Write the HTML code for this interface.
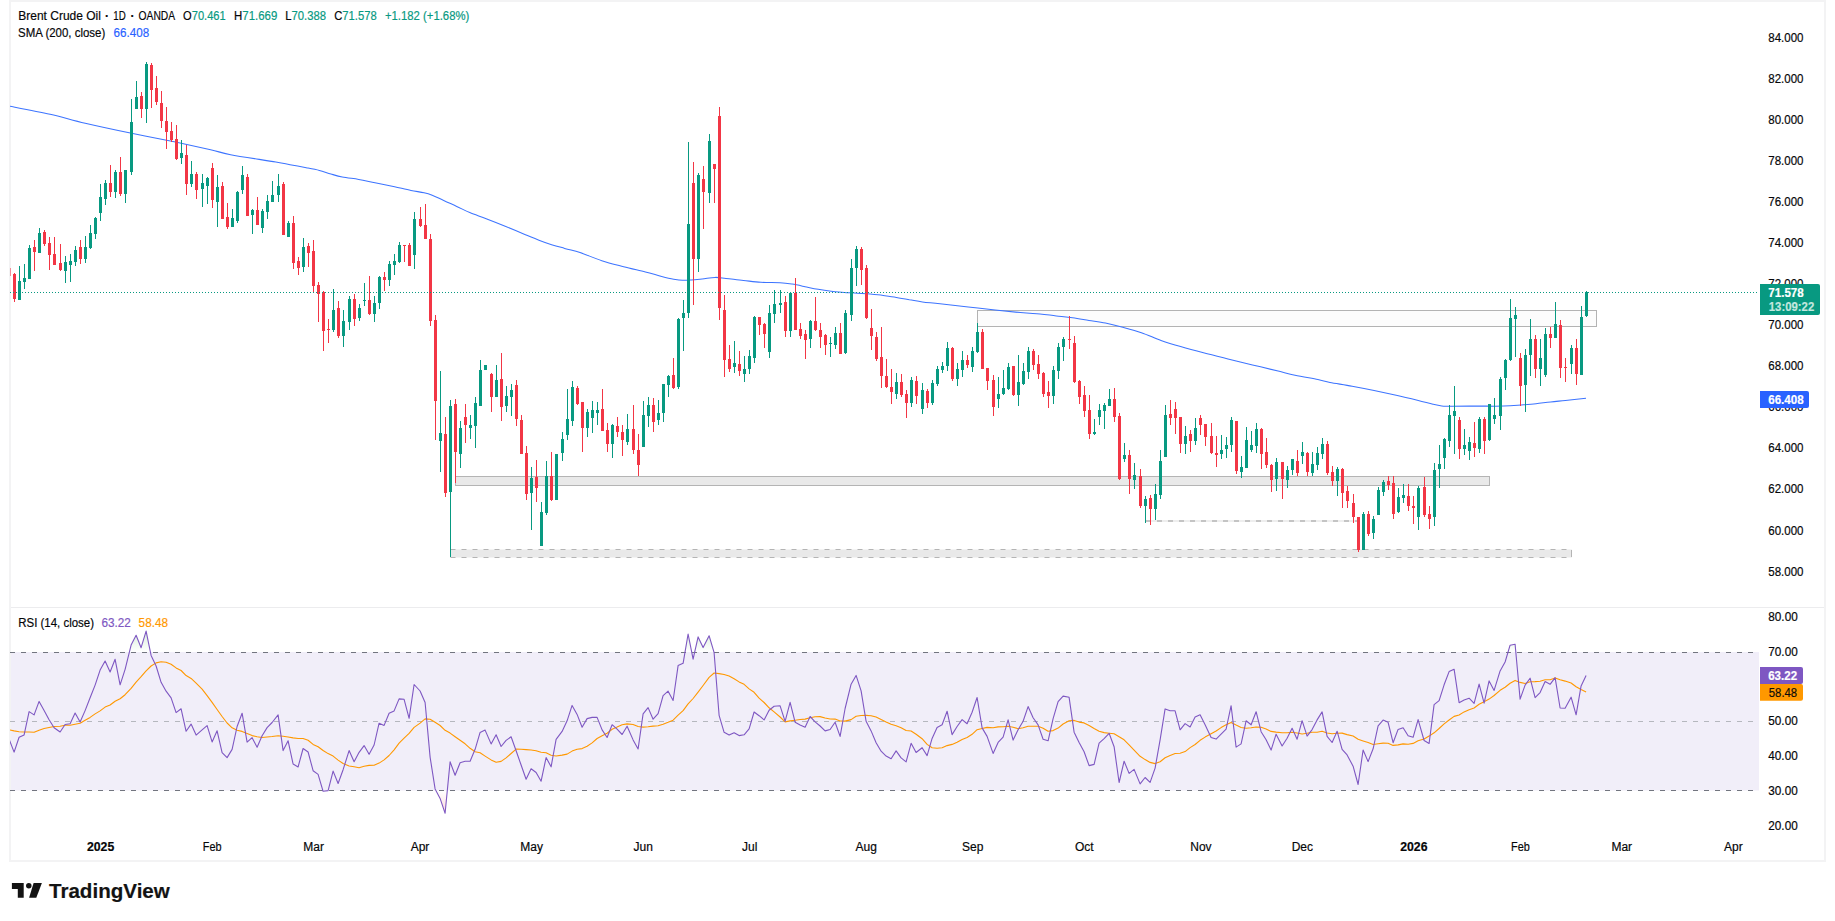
<!DOCTYPE html>
<html lang="en"><head><meta charset="utf-8"><title>Brent Crude Oil chart</title>
<style>html,body{margin:0;padding:0;background:#fff;overflow:hidden}svg{display:block}text{font-family:"Liberation Sans",Arial,sans-serif;font-size:12px;fill:#050608;stroke:#050608;stroke-width:0.18px}.b{font-weight:bold}</style></head><body>
<svg width="1835" height="921" viewBox="0 0 1835 921">
<rect width="1835" height="921" fill="#fff"/>
<rect x="10" y="1" width="1815" height="860" fill="#fff" stroke="#f3f3f4" stroke-width="2"/>
<rect x="11" y="607" width="1813" height="1" fill="#ececee"/>
<defs><clipPath id="pc"><rect x="10" y="2" width="1749" height="604"/></clipPath><clipPath id="rc"><rect x="10" y="608" width="1749" height="228"/></clipPath></defs>
<g clip-path="url(#pc)">
<rect x="977.5" y="310.5" width="619" height="16" fill="#fcfcfc" stroke="#b3b3b3" stroke-width="1"/>
<rect x="455.5" y="476.5" width="1034" height="9" fill="#e9e9e9" stroke="#b4b4b4" stroke-width="1"/>
<rect x="450.5" y="549.5" width="1121.5" height="8" fill="#e9e9e9"/>
<path d="M450.5 549.5H1572M450.5 557.5H1572" stroke="#b4b4b4" stroke-width="1" stroke-dasharray="5 6" fill="none"/>
<path d="M1571.5 550V557" stroke="#b4b4b4" stroke-width="1"/>
<path d="M1146 521H1357" stroke="#eeeeee" stroke-width="2"/>
<path d="M1146 521H1357" stroke="#c4c4c4" stroke-width="2" stroke-dasharray="5 6"/>
<path d="M10.0 106.3C16.7 107.6 37.6 111.5 50.1 114.3C62.6 117.1 71.8 120.2 85.2 123.3C98.6 126.4 115.4 130.0 130.4 133.1C145.5 136.2 162.1 139.3 175.5 142.1C188.9 144.9 201.4 147.6 210.6 149.7C219.8 151.8 219.7 152.6 230.6 154.7C241.5 156.8 265.9 160.3 275.8 162.0C285.7 163.7 284.9 163.8 290.0 164.7C295.1 165.6 301.4 166.8 306.3 167.7C311.2 168.6 315.3 169.3 319.4 170.4C323.5 171.5 327.1 172.9 330.9 174.0C334.7 175.1 337.7 176.1 342.3 177.0C346.9 177.9 353.2 178.5 358.7 179.4C364.1 180.3 369.0 181.5 375.0 182.7C381.0 183.9 388.6 185.5 394.6 186.8C400.6 188.1 406.1 189.4 411.0 190.4C415.9 191.4 420.6 192.0 424.1 192.8C427.6 193.6 428.9 194.0 432.2 195.3C435.5 196.6 439.6 198.6 443.7 200.4C447.8 202.2 452.3 204.4 456.7 206.4C461.1 208.4 464.9 210.6 469.8 212.6C474.7 214.6 480.2 216.4 486.2 218.7C492.2 221.0 499.3 223.8 505.8 226.5C512.3 229.2 518.9 232.0 525.4 234.7C531.9 237.3 538.5 240.1 545.0 242.4C551.5 244.7 558.8 246.7 564.6 248.4C570.4 250.1 573.8 250.4 580.0 252.5C586.2 254.6 594.5 258.3 601.8 260.7C609.1 263.1 616.3 264.8 623.6 266.7C630.9 268.6 639.0 270.3 645.4 271.9C651.8 273.5 657.0 275.3 661.7 276.5C666.4 277.7 670.2 278.6 673.7 279.2C677.2 279.8 679.6 280.2 682.5 280.3C685.4 280.4 687.9 280.2 691.2 280.0C694.5 279.8 698.1 279.4 702.1 279.0C706.1 278.6 711.1 277.5 715.1 277.4C719.1 277.3 721.3 277.9 726.0 278.4C730.7 278.9 737.7 279.9 743.5 280.5C749.3 281.1 754.8 281.9 760.9 282.3C767.0 282.7 774.8 282.5 780.0 282.8C785.2 283.1 787.9 283.5 792.1 284.1C796.3 284.8 800.8 285.8 805.1 286.7C809.5 287.6 813.9 288.6 818.2 289.3C822.6 290.1 826.9 290.7 831.2 291.2C835.5 291.7 839.9 292.2 844.2 292.5C848.6 292.8 852.9 292.9 857.3 293.2C861.6 293.5 866.0 293.7 870.3 294.1C874.6 294.5 878.9 294.9 883.3 295.5C887.6 296.1 892.0 296.7 896.4 297.4C900.8 298.1 905.1 298.9 909.4 299.7C913.7 300.4 917.3 301.2 922.4 301.9C927.5 302.6 930.8 302.7 940.0 303.7C949.2 304.7 964.4 306.6 977.8 308.1C991.2 309.6 1010.0 311.6 1020.4 312.6C1030.8 313.6 1034.0 313.3 1040.0 313.9C1046.0 314.4 1050.8 315.3 1056.3 315.9C1061.8 316.5 1067.2 316.9 1072.7 317.7C1078.2 318.4 1083.5 319.5 1089.0 320.4C1094.5 321.3 1100.0 322.0 1105.4 323.1C1110.9 324.2 1115.7 325.4 1121.7 327.0C1127.7 328.6 1134.9 330.4 1141.4 332.7C1148.0 334.9 1154.5 338.2 1161.0 340.5C1167.5 342.8 1173.5 344.6 1180.6 346.6C1187.7 348.7 1195.6 350.8 1203.5 352.8C1211.4 354.9 1219.8 356.9 1228.0 358.9C1236.2 360.9 1244.3 362.9 1252.5 364.9C1260.7 366.9 1269.9 369.1 1277.0 370.8C1284.1 372.5 1288.2 373.7 1295.0 375.2C1301.8 376.7 1312.1 378.4 1317.9 379.6C1323.7 380.8 1324.3 381.4 1330.0 382.5C1335.7 383.6 1344.8 384.8 1352.1 386.2C1359.4 387.6 1366.8 389.1 1374.1 390.6C1381.4 392.1 1388.8 393.7 1396.2 395.3C1403.6 396.9 1412.2 399.0 1418.3 400.5C1424.4 402.0 1429.1 403.4 1433.0 404.3C1436.9 405.2 1438.6 405.6 1441.8 405.9C1445.0 406.2 1446.2 406.2 1452.1 406.2C1458.0 406.2 1468.5 406.1 1477.1 406.1C1485.7 406.1 1496.2 406.3 1503.6 406.1C1511.0 405.9 1515.9 405.4 1521.3 405.0C1526.7 404.6 1531.1 404.3 1536.0 403.8C1540.9 403.3 1545.8 402.4 1550.7 401.9C1555.6 401.3 1559.5 401.1 1565.4 400.5C1571.3 399.9 1582.6 398.7 1586.0 398.3" stroke="#3d74ff" stroke-width="1.05" fill="none"/>
<g shape-rendering="crispEdges"><g fill="#089981"><rect x="19" y="266" width="1" height="34"/><rect x="18" y="281" width="3" height="19"/><rect x="24" y="264" width="1" height="25"/><rect x="23" y="278" width="3" height="4"/><rect x="29" y="245" width="1" height="34"/><rect x="28" y="248" width="3" height="31"/><rect x="39" y="228" width="1" height="25"/><rect x="38" y="233" width="3" height="20"/><rect x="65" y="256" width="1" height="27"/><rect x="64" y="262" width="3" height="9"/><rect x="70" y="254" width="1" height="28"/><rect x="69" y="261" width="3" height="4"/><rect x="75" y="246" width="1" height="20"/><rect x="74" y="250" width="3" height="12"/><rect x="85" y="236" width="1" height="27"/><rect x="84" y="247" width="3" height="12"/><rect x="90" y="225" width="1" height="24"/><rect x="89" y="233" width="3" height="15"/><rect x="95" y="217" width="1" height="22"/><rect x="94" y="218" width="3" height="16"/><rect x="100" y="184" width="1" height="37"/><rect x="99" y="197" width="3" height="16"/><rect x="105" y="180" width="1" height="25"/><rect x="104" y="183" width="3" height="16"/><rect x="115" y="170" width="1" height="28"/><rect x="114" y="172" width="3" height="20"/><rect x="125" y="170" width="1" height="33"/><rect x="124" y="170" width="3" height="24"/><rect x="131" y="99" width="1" height="76"/><rect x="130" y="122" width="3" height="50"/><rect x="136" y="81" width="1" height="28"/><rect x="135" y="97" width="3" height="12"/><rect x="146" y="62" width="1" height="61"/><rect x="145" y="64" width="3" height="45"/><rect x="181" y="140" width="1" height="24"/><rect x="180" y="153" width="3" height="5"/><rect x="191" y="161" width="1" height="26"/><rect x="190" y="174" width="3" height="10"/><rect x="202" y="174" width="1" height="33"/><rect x="201" y="183" width="3" height="6"/><rect x="207" y="177" width="1" height="27"/><rect x="206" y="178" width="3" height="8"/><rect x="217" y="175" width="1" height="52"/><rect x="216" y="187" width="3" height="15"/><rect x="232" y="209" width="1" height="18"/><rect x="231" y="218" width="3" height="9"/><rect x="237" y="191" width="1" height="32"/><rect x="236" y="192" width="3" height="29"/><rect x="242" y="166" width="1" height="28"/><rect x="241" y="175" width="3" height="15"/><rect x="252" y="209" width="1" height="25"/><rect x="251" y="210" width="3" height="5"/><rect x="262" y="209" width="1" height="24"/><rect x="261" y="211" width="3" height="17"/><rect x="267" y="195" width="1" height="24"/><rect x="266" y="201" width="3" height="11"/><rect x="272" y="181" width="1" height="21"/><rect x="271" y="195" width="3" height="7"/><rect x="278" y="174" width="1" height="28"/><rect x="277" y="186" width="3" height="9"/><rect x="288" y="221" width="1" height="16"/><rect x="287" y="223" width="3" height="14"/><rect x="303" y="238" width="1" height="34"/><rect x="302" y="247" width="3" height="20"/><rect x="333" y="289" width="1" height="43"/><rect x="332" y="310" width="3" height="20"/><rect x="343" y="310" width="1" height="37"/><rect x="342" y="321" width="3" height="15"/><rect x="349" y="296" width="1" height="34"/><rect x="348" y="299" width="3" height="23"/><rect x="359" y="304" width="1" height="17"/><rect x="358" y="308" width="3" height="10"/><rect x="364" y="283" width="1" height="23"/><rect x="363" y="300" width="3" height="1"/><rect x="374" y="296" width="1" height="26"/><rect x="373" y="303" width="3" height="11"/><rect x="379" y="276" width="1" height="33"/><rect x="378" y="277" width="3" height="26"/><rect x="389" y="261" width="1" height="25"/><rect x="388" y="264" width="3" height="16"/><rect x="394" y="254" width="1" height="21"/><rect x="393" y="261" width="3" height="4"/><rect x="399" y="242" width="1" height="21"/><rect x="398" y="245" width="3" height="17"/><rect x="414" y="212" width="1" height="57"/><rect x="413" y="219" width="3" height="36"/><rect x="440" y="371" width="1" height="101"/><rect x="439" y="433" width="3" height="8"/><rect x="450" y="400" width="1" height="157"/><rect x="449" y="406" width="3" height="86"/><rect x="460" y="421" width="1" height="47"/><rect x="459" y="428" width="3" height="26"/><rect x="470" y="415" width="1" height="24"/><rect x="469" y="425" width="3" height="3"/><rect x="475" y="397" width="1" height="51"/><rect x="474" y="403" width="3" height="23"/><rect x="480" y="360" width="1" height="46"/><rect x="479" y="370" width="3" height="36"/><rect x="485" y="365" width="1" height="5"/><rect x="484" y="365" width="3" height="5"/><rect x="496" y="365" width="1" height="32"/><rect x="495" y="380" width="3" height="17"/><rect x="506" y="386" width="1" height="26"/><rect x="505" y="396" width="3" height="10"/><rect x="511" y="384" width="1" height="32"/><rect x="510" y="390" width="3" height="7"/><rect x="531" y="467" width="1" height="63"/><rect x="530" y="478" width="3" height="15"/><rect x="541" y="502" width="1" height="44"/><rect x="540" y="512" width="3" height="34"/><rect x="546" y="461" width="1" height="54"/><rect x="545" y="476" width="3" height="37"/><rect x="556" y="454" width="1" height="46"/><rect x="555" y="454" width="3" height="46"/><rect x="562" y="432" width="1" height="29"/><rect x="561" y="439" width="3" height="14"/><rect x="567" y="389" width="1" height="51"/><rect x="566" y="419" width="3" height="16"/><rect x="572" y="381" width="1" height="45"/><rect x="571" y="387" width="3" height="34"/><rect x="587" y="409" width="1" height="28"/><rect x="586" y="412" width="3" height="16"/><rect x="592" y="401" width="1" height="32"/><rect x="591" y="410" width="3" height="8"/><rect x="597" y="402" width="1" height="23"/><rect x="596" y="410" width="3" height="3"/><rect x="612" y="424" width="1" height="34"/><rect x="611" y="425" width="3" height="19"/><rect x="627" y="414" width="1" height="31"/><rect x="626" y="429" width="3" height="13"/><rect x="643" y="401" width="1" height="46"/><rect x="642" y="415" width="3" height="32"/><rect x="648" y="397" width="1" height="30"/><rect x="647" y="405" width="3" height="11"/><rect x="658" y="400" width="1" height="25"/><rect x="657" y="413" width="3" height="7"/><rect x="663" y="384" width="1" height="38"/><rect x="662" y="384" width="3" height="29"/><rect x="668" y="375" width="1" height="22"/><rect x="667" y="376" width="3" height="9"/><rect x="678" y="318" width="1" height="71"/><rect x="677" y="319" width="3" height="68"/><rect x="683" y="300" width="1" height="51"/><rect x="682" y="313" width="3" height="5"/><rect x="688" y="142" width="1" height="176"/><rect x="687" y="224" width="3" height="89"/><rect x="698" y="173" width="1" height="99"/><rect x="697" y="175" width="3" height="84"/><rect x="709" y="134" width="1" height="69"/><rect x="708" y="141" width="3" height="52"/><rect x="734" y="341" width="1" height="32"/><rect x="733" y="363" width="3" height="4"/><rect x="744" y="356" width="1" height="26"/><rect x="743" y="369" width="3" height="5"/><rect x="749" y="350" width="1" height="24"/><rect x="748" y="356" width="3" height="13"/><rect x="754" y="316" width="1" height="47"/><rect x="753" y="317" width="3" height="41"/><rect x="769" y="305" width="1" height="53"/><rect x="768" y="313" width="3" height="39"/><rect x="774" y="290" width="1" height="33"/><rect x="773" y="304" width="3" height="10"/><rect x="780" y="290" width="1" height="23"/><rect x="779" y="303" width="3" height="2"/><rect x="790" y="292" width="1" height="45"/><rect x="789" y="293" width="3" height="38"/><rect x="810" y="320" width="1" height="28"/><rect x="809" y="321" width="3" height="18"/><rect x="830" y="337" width="1" height="20"/><rect x="829" y="343" width="3" height="1"/><rect x="835" y="327" width="1" height="22"/><rect x="834" y="333" width="3" height="12"/><rect x="845" y="310" width="1" height="44"/><rect x="844" y="313" width="3" height="40"/><rect x="851" y="259" width="1" height="62"/><rect x="850" y="268" width="3" height="47"/><rect x="856" y="246" width="1" height="40"/><rect x="855" y="249" width="3" height="19"/><rect x="896" y="373" width="1" height="26"/><rect x="895" y="382" width="3" height="12"/><rect x="911" y="377" width="1" height="30"/><rect x="910" y="380" width="3" height="23"/><rect x="922" y="383" width="1" height="31"/><rect x="921" y="390" width="3" height="19"/><rect x="932" y="380" width="1" height="25"/><rect x="931" y="383" width="3" height="20"/><rect x="937" y="366" width="1" height="20"/><rect x="936" y="369" width="3" height="15"/><rect x="942" y="362" width="1" height="11"/><rect x="941" y="366" width="3" height="4"/><rect x="947" y="342" width="1" height="29"/><rect x="946" y="348" width="3" height="18"/><rect x="957" y="363" width="1" height="23"/><rect x="956" y="369" width="3" height="10"/><rect x="962" y="351" width="1" height="26"/><rect x="961" y="360" width="3" height="10"/><rect x="972" y="347" width="1" height="25"/><rect x="971" y="351" width="3" height="16"/><rect x="977" y="323" width="1" height="30"/><rect x="976" y="332" width="3" height="20"/><rect x="998" y="377" width="1" height="31"/><rect x="997" y="394" width="3" height="5"/><rect x="1003" y="370" width="1" height="25"/><rect x="1002" y="388" width="3" height="6"/><rect x="1008" y="363" width="1" height="27"/><rect x="1007" y="367" width="3" height="22"/><rect x="1018" y="355" width="1" height="51"/><rect x="1017" y="382" width="3" height="13"/><rect x="1023" y="363" width="1" height="22"/><rect x="1022" y="371" width="3" height="13"/><rect x="1028" y="347" width="1" height="32"/><rect x="1027" y="351" width="3" height="21"/><rect x="1053" y="366" width="1" height="38"/><rect x="1052" y="370" width="3" height="26"/><rect x="1058" y="343" width="1" height="36"/><rect x="1057" y="347" width="3" height="24"/><rect x="1063" y="337" width="1" height="24"/><rect x="1062" y="339" width="3" height="8"/><rect x="1094" y="419" width="1" height="16"/><rect x="1093" y="432" width="3" height="2"/><rect x="1099" y="404" width="1" height="21"/><rect x="1098" y="410" width="3" height="7"/><rect x="1104" y="403" width="1" height="26"/><rect x="1103" y="405" width="3" height="6"/><rect x="1109" y="389" width="1" height="17"/><rect x="1108" y="399" width="3" height="7"/><rect x="1124" y="443" width="1" height="19"/><rect x="1123" y="455" width="3" height="4"/><rect x="1134" y="463" width="1" height="26"/><rect x="1133" y="475" width="3" height="5"/><rect x="1145" y="496" width="1" height="27"/><rect x="1144" y="499" width="3" height="7"/><rect x="1155" y="484" width="1" height="36"/><rect x="1154" y="494" width="3" height="15"/><rect x="1160" y="450" width="1" height="49"/><rect x="1159" y="461" width="3" height="34"/><rect x="1165" y="405" width="1" height="52"/><rect x="1164" y="415" width="3" height="42"/><rect x="1185" y="426" width="1" height="28"/><rect x="1184" y="436" width="3" height="8"/><rect x="1195" y="418" width="1" height="27"/><rect x="1194" y="428" width="3" height="13"/><rect x="1221" y="435" width="1" height="24"/><rect x="1220" y="450" width="3" height="4"/><rect x="1226" y="437" width="1" height="21"/><rect x="1225" y="445" width="3" height="4"/><rect x="1231" y="417" width="1" height="35"/><rect x="1230" y="420" width="3" height="25"/><rect x="1241" y="456" width="1" height="22"/><rect x="1240" y="467" width="3" height="5"/><rect x="1246" y="427" width="1" height="41"/><rect x="1245" y="440" width="3" height="28"/><rect x="1251" y="431" width="1" height="21"/><rect x="1250" y="445" width="3" height="5"/><rect x="1256" y="423" width="1" height="30"/><rect x="1255" y="429" width="3" height="17"/><rect x="1276" y="458" width="1" height="33"/><rect x="1275" y="462" width="3" height="17"/><rect x="1287" y="466" width="1" height="22"/><rect x="1286" y="470" width="3" height="10"/><rect x="1292" y="459" width="1" height="16"/><rect x="1291" y="459" width="3" height="11"/><rect x="1302" y="442" width="1" height="22"/><rect x="1301" y="452" width="3" height="4"/><rect x="1312" y="452" width="1" height="24"/><rect x="1311" y="464" width="3" height="9"/><rect x="1317" y="447" width="1" height="23"/><rect x="1316" y="453" width="3" height="12"/><rect x="1322" y="438" width="1" height="21"/><rect x="1321" y="444" width="3" height="10"/><rect x="1337" y="467" width="1" height="29"/><rect x="1336" y="469" width="3" height="12"/><rect x="1363" y="512" width="1" height="38"/><rect x="1362" y="514" width="3" height="36"/><rect x="1373" y="516" width="1" height="23"/><rect x="1372" y="519" width="3" height="14"/><rect x="1378" y="487" width="1" height="28"/><rect x="1377" y="490" width="3" height="25"/><rect x="1383" y="480" width="1" height="16"/><rect x="1382" y="482" width="3" height="10"/><rect x="1398" y="488" width="1" height="25"/><rect x="1397" y="497" width="3" height="15"/><rect x="1403" y="484" width="1" height="19"/><rect x="1402" y="495" width="3" height="3"/><rect x="1418" y="486" width="1" height="44"/><rect x="1417" y="488" width="3" height="29"/><rect x="1434" y="463" width="1" height="63"/><rect x="1433" y="470" width="3" height="47"/><rect x="1439" y="445" width="1" height="43"/><rect x="1438" y="464" width="3" height="5"/><rect x="1444" y="438" width="1" height="31"/><rect x="1443" y="439" width="3" height="19"/><rect x="1449" y="405" width="1" height="42"/><rect x="1448" y="415" width="3" height="26"/><rect x="1454" y="386" width="1" height="68"/><rect x="1453" y="411" width="3" height="5"/><rect x="1464" y="429" width="1" height="26"/><rect x="1463" y="445" width="3" height="4"/><rect x="1469" y="437" width="1" height="23"/><rect x="1468" y="442" width="3" height="9"/><rect x="1479" y="417" width="1" height="36"/><rect x="1478" y="419" width="3" height="30"/><rect x="1489" y="404" width="1" height="37"/><rect x="1488" y="404" width="3" height="36"/><rect x="1494" y="398" width="1" height="26"/><rect x="1493" y="415" width="3" height="4"/><rect x="1500" y="377" width="1" height="53"/><rect x="1499" y="379" width="3" height="37"/><rect x="1505" y="359" width="1" height="31"/><rect x="1504" y="360" width="3" height="18"/><rect x="1510" y="299" width="1" height="62"/><rect x="1509" y="318" width="3" height="42"/><rect x="1515" y="307" width="1" height="50"/><rect x="1514" y="315" width="3" height="4"/><rect x="1525" y="349" width="1" height="63"/><rect x="1524" y="355" width="3" height="30"/><rect x="1530" y="319" width="1" height="57"/><rect x="1529" y="339" width="3" height="16"/><rect x="1540" y="339" width="1" height="47"/><rect x="1539" y="358" width="3" height="11"/><rect x="1545" y="328" width="1" height="49"/><rect x="1544" y="334" width="3" height="41"/><rect x="1555" y="302" width="1" height="36"/><rect x="1554" y="324" width="3" height="14"/><rect x="1571" y="345" width="1" height="29"/><rect x="1570" y="348" width="3" height="16"/><rect x="1581" y="306" width="1" height="69"/><rect x="1580" y="317" width="3" height="58"/><rect x="1586" y="291" width="1" height="26"/><rect x="1585" y="292" width="3" height="24"/></g>
<g fill="#f23645"><rect x="10" y="268" width="1" height="8" fill="#f28d97"/><rect x="14" y="273" width="1" height="29"/><rect x="13" y="274" width="3" height="25"/><rect x="34" y="240" width="1" height="31"/><rect x="33" y="247" width="3" height="5"/><rect x="44" y="230" width="1" height="16"/><rect x="43" y="232" width="3" height="12"/><rect x="49" y="237" width="1" height="33"/><rect x="48" y="243" width="3" height="12"/><rect x="54" y="237" width="1" height="28"/><rect x="53" y="254" width="3" height="11"/><rect x="60" y="244" width="1" height="27"/><rect x="59" y="263" width="3" height="7"/><rect x="80" y="240" width="1" height="24"/><rect x="79" y="247" width="3" height="12"/><rect x="110" y="165" width="1" height="32"/><rect x="109" y="183" width="3" height="9"/><rect x="120" y="157" width="1" height="39"/><rect x="119" y="172" width="3" height="22"/><rect x="141" y="92" width="1" height="26"/><rect x="140" y="96" width="3" height="13"/><rect x="151" y="63" width="1" height="45"/><rect x="150" y="65" width="3" height="25"/><rect x="156" y="76" width="1" height="29"/><rect x="155" y="88" width="3" height="14"/><rect x="161" y="91" width="1" height="37"/><rect x="160" y="103" width="3" height="18"/><rect x="166" y="107" width="1" height="42"/><rect x="165" y="121" width="3" height="11"/><rect x="171" y="122" width="1" height="20"/><rect x="170" y="131" width="3" height="9"/><rect x="176" y="125" width="1" height="35"/><rect x="175" y="139" width="3" height="20"/><rect x="186" y="145" width="1" height="50"/><rect x="185" y="155" width="3" height="29"/><rect x="196" y="172" width="1" height="27"/><rect x="195" y="174" width="3" height="16"/><rect x="212" y="163" width="1" height="45"/><rect x="211" y="168" width="3" height="32"/><rect x="222" y="182" width="1" height="37"/><rect x="221" y="186" width="3" height="33"/><rect x="227" y="203" width="1" height="26"/><rect x="226" y="217" width="3" height="10"/><rect x="247" y="174" width="1" height="42"/><rect x="246" y="177" width="3" height="39"/><rect x="257" y="197" width="1" height="28"/><rect x="256" y="210" width="3" height="15"/><rect x="283" y="182" width="1" height="53"/><rect x="282" y="184" width="3" height="51"/><rect x="293" y="216" width="1" height="53"/><rect x="292" y="223" width="3" height="40"/><rect x="298" y="257" width="1" height="18"/><rect x="297" y="261" width="3" height="7"/><rect x="308" y="243" width="1" height="24"/><rect x="307" y="246" width="3" height="7"/><rect x="313" y="240" width="1" height="52"/><rect x="312" y="251" width="3" height="35"/><rect x="318" y="282" width="1" height="40"/><rect x="317" y="285" width="3" height="9"/><rect x="323" y="291" width="1" height="60"/><rect x="322" y="292" width="3" height="39"/><rect x="328" y="319" width="1" height="24"/><rect x="327" y="329" width="3" height="1"/><rect x="338" y="301" width="1" height="37"/><rect x="337" y="308" width="3" height="28"/><rect x="354" y="294" width="1" height="32"/><rect x="353" y="299" width="3" height="20"/><rect x="369" y="276" width="1" height="39"/><rect x="368" y="300" width="3" height="14"/><rect x="384" y="272" width="1" height="19"/><rect x="383" y="277" width="3" height="3"/><rect x="404" y="245" width="1" height="17"/><rect x="403" y="245" width="3" height="1"/><rect x="409" y="243" width="1" height="23"/><rect x="408" y="245" width="3" height="21"/><rect x="420" y="207" width="1" height="20"/><rect x="419" y="219" width="3" height="7"/><rect x="425" y="204" width="1" height="35"/><rect x="424" y="225" width="3" height="14"/><rect x="430" y="234" width="1" height="92"/><rect x="429" y="239" width="3" height="82"/><rect x="435" y="315" width="1" height="125"/><rect x="434" y="320" width="3" height="81"/><rect x="445" y="417" width="1" height="80"/><rect x="444" y="434" width="3" height="59"/><rect x="455" y="399" width="1" height="84"/><rect x="454" y="404" width="3" height="48"/><rect x="465" y="404" width="1" height="39"/><rect x="464" y="417" width="3" height="8"/><rect x="491" y="373" width="1" height="39"/><rect x="490" y="374" width="3" height="23"/><rect x="501" y="353" width="1" height="68"/><rect x="500" y="379" width="3" height="28"/><rect x="516" y="380" width="1" height="46"/><rect x="515" y="385" width="3" height="34"/><rect x="521" y="415" width="1" height="39"/><rect x="520" y="420" width="3" height="34"/><rect x="526" y="446" width="1" height="54"/><rect x="525" y="453" width="3" height="41"/><rect x="536" y="460" width="1" height="42"/><rect x="535" y="477" width="3" height="11"/><rect x="551" y="452" width="1" height="49"/><rect x="550" y="476" width="3" height="24"/><rect x="577" y="386" width="1" height="19"/><rect x="576" y="388" width="3" height="16"/><rect x="582" y="402" width="1" height="50"/><rect x="581" y="402" width="3" height="26"/><rect x="602" y="389" width="1" height="42"/><rect x="601" y="409" width="3" height="22"/><rect x="607" y="423" width="1" height="29"/><rect x="606" y="430" width="3" height="14"/><rect x="617" y="417" width="1" height="20"/><rect x="616" y="426" width="3" height="6"/><rect x="622" y="425" width="1" height="31"/><rect x="621" y="432" width="3" height="8"/><rect x="633" y="405" width="1" height="49"/><rect x="632" y="429" width="3" height="21"/><rect x="638" y="434" width="1" height="42"/><rect x="637" y="450" width="3" height="15"/><rect x="653" y="398" width="1" height="34"/><rect x="652" y="405" width="3" height="17"/><rect x="673" y="358" width="1" height="31"/><rect x="672" y="375" width="3" height="13"/><rect x="693" y="162" width="1" height="143"/><rect x="692" y="183" width="3" height="76"/><rect x="703" y="166" width="1" height="63"/><rect x="702" y="179" width="3" height="13"/><rect x="714" y="164" width="1" height="39"/><rect x="713" y="164" width="3" height="5"/><rect x="719" y="107" width="1" height="213"/><rect x="718" y="116" width="3" height="192"/><rect x="724" y="295" width="1" height="82"/><rect x="723" y="310" width="3" height="50"/><rect x="729" y="345" width="1" height="27"/><rect x="728" y="359" width="3" height="10"/><rect x="739" y="351" width="1" height="25"/><rect x="738" y="364" width="3" height="7"/><rect x="759" y="317" width="1" height="18"/><rect x="758" y="317" width="3" height="8"/><rect x="764" y="323" width="1" height="25"/><rect x="763" y="324" width="3" height="10"/><rect x="785" y="296" width="1" height="41"/><rect x="784" y="302" width="3" height="29"/><rect x="795" y="278" width="1" height="52"/><rect x="794" y="293" width="3" height="37"/><rect x="800" y="323" width="1" height="16"/><rect x="799" y="329" width="3" height="7"/><rect x="805" y="330" width="1" height="29"/><rect x="804" y="334" width="3" height="6"/><rect x="815" y="297" width="1" height="34"/><rect x="814" y="321" width="3" height="9"/><rect x="820" y="323" width="1" height="25"/><rect x="819" y="330" width="3" height="7"/><rect x="825" y="334" width="1" height="21"/><rect x="824" y="335" width="3" height="10"/><rect x="840" y="323" width="1" height="31"/><rect x="839" y="333" width="3" height="21"/><rect x="861" y="247" width="1" height="38"/><rect x="860" y="249" width="3" height="21"/><rect x="866" y="265" width="1" height="54"/><rect x="865" y="268" width="3" height="50"/><rect x="871" y="309" width="1" height="41"/><rect x="870" y="328" width="3" height="8"/><rect x="876" y="332" width="1" height="29"/><rect x="875" y="337" width="3" height="22"/><rect x="881" y="327" width="1" height="61"/><rect x="880" y="357" width="3" height="19"/><rect x="886" y="359" width="1" height="29"/><rect x="885" y="376" width="3" height="11"/><rect x="891" y="369" width="1" height="35"/><rect x="890" y="387" width="3" height="5"/><rect x="901" y="374" width="1" height="23"/><rect x="900" y="382" width="3" height="13"/><rect x="906" y="390" width="1" height="28"/><rect x="905" y="394" width="3" height="9"/><rect x="916" y="376" width="1" height="28"/><rect x="915" y="381" width="3" height="15"/><rect x="927" y="389" width="1" height="19"/><rect x="926" y="391" width="3" height="12"/><rect x="952" y="347" width="1" height="34"/><rect x="951" y="348" width="3" height="31"/><rect x="967" y="355" width="1" height="13"/><rect x="966" y="360" width="3" height="5"/><rect x="982" y="329" width="1" height="40"/><rect x="981" y="332" width="3" height="37"/><rect x="987" y="368" width="1" height="22"/><rect x="986" y="368" width="3" height="13"/><rect x="993" y="375" width="1" height="41"/><rect x="992" y="380" width="3" height="27"/><rect x="1013" y="366" width="1" height="30"/><rect x="1012" y="366" width="3" height="29"/><rect x="1033" y="349" width="1" height="21"/><rect x="1032" y="351" width="3" height="14"/><rect x="1038" y="355" width="1" height="24"/><rect x="1037" y="364" width="3" height="10"/><rect x="1043" y="372" width="1" height="25"/><rect x="1042" y="373" width="3" height="21"/><rect x="1048" y="381" width="1" height="27"/><rect x="1047" y="392" width="3" height="4"/><rect x="1069" y="316" width="1" height="33"/><rect x="1068" y="339" width="3" height="1"/><rect x="1074" y="336" width="1" height="47"/><rect x="1073" y="343" width="3" height="39"/><rect x="1079" y="380" width="1" height="24"/><rect x="1078" y="381" width="3" height="16"/><rect x="1084" y="386" width="1" height="31"/><rect x="1083" y="395" width="3" height="16"/><rect x="1089" y="395" width="1" height="44"/><rect x="1088" y="410" width="3" height="24"/><rect x="1114" y="388" width="1" height="34"/><rect x="1113" y="399" width="3" height="18"/><rect x="1119" y="413" width="1" height="67"/><rect x="1118" y="416" width="3" height="63"/><rect x="1129" y="450" width="1" height="44"/><rect x="1128" y="455" width="3" height="24"/><rect x="1140" y="469" width="1" height="39"/><rect x="1139" y="476" width="3" height="30"/><rect x="1150" y="495" width="1" height="30"/><rect x="1149" y="498" width="3" height="11"/><rect x="1170" y="400" width="1" height="25"/><rect x="1169" y="414" width="3" height="4"/><rect x="1175" y="402" width="1" height="32"/><rect x="1174" y="409" width="3" height="9"/><rect x="1180" y="417" width="1" height="36"/><rect x="1179" y="417" width="3" height="27"/><rect x="1190" y="430" width="1" height="22"/><rect x="1189" y="434" width="3" height="7"/><rect x="1200" y="415" width="1" height="20"/><rect x="1199" y="418" width="3" height="7"/><rect x="1205" y="424" width="1" height="22"/><rect x="1204" y="424" width="3" height="13"/><rect x="1211" y="423" width="1" height="31"/><rect x="1210" y="436" width="3" height="17"/><rect x="1216" y="436" width="1" height="31"/><rect x="1215" y="453" width="3" height="2"/><rect x="1236" y="421" width="1" height="53"/><rect x="1235" y="421" width="3" height="50"/><rect x="1261" y="428" width="1" height="41"/><rect x="1260" y="429" width="3" height="25"/><rect x="1266" y="438" width="1" height="30"/><rect x="1265" y="452" width="3" height="13"/><rect x="1271" y="464" width="1" height="28"/><rect x="1270" y="465" width="3" height="15"/><rect x="1282" y="462" width="1" height="37"/><rect x="1281" y="462" width="3" height="17"/><rect x="1297" y="450" width="1" height="26"/><rect x="1296" y="461" width="3" height="12"/><rect x="1307" y="452" width="1" height="24"/><rect x="1306" y="453" width="3" height="19"/><rect x="1327" y="441" width="1" height="34"/><rect x="1326" y="444" width="3" height="29"/><rect x="1332" y="466" width="1" height="20"/><rect x="1331" y="472" width="3" height="9"/><rect x="1342" y="468" width="1" height="40"/><rect x="1341" y="469" width="3" height="24"/><rect x="1347" y="486" width="1" height="22"/><rect x="1346" y="491" width="3" height="10"/><rect x="1353" y="494" width="1" height="29"/><rect x="1352" y="503" width="3" height="14"/><rect x="1358" y="517" width="1" height="35"/><rect x="1357" y="517" width="3" height="33"/><rect x="1368" y="511" width="1" height="25"/><rect x="1367" y="514" width="3" height="20"/><rect x="1388" y="476" width="1" height="14"/><rect x="1387" y="481" width="3" height="4"/><rect x="1393" y="476" width="1" height="43"/><rect x="1392" y="483" width="3" height="31"/><rect x="1408" y="484" width="1" height="27"/><rect x="1407" y="496" width="3" height="10"/><rect x="1413" y="496" width="1" height="28"/><rect x="1412" y="506" width="3" height="2"/><rect x="1424" y="477" width="1" height="40"/><rect x="1423" y="487" width="3" height="28"/><rect x="1429" y="506" width="1" height="23"/><rect x="1428" y="514" width="3" height="5"/><rect x="1459" y="417" width="1" height="42"/><rect x="1458" y="420" width="3" height="29"/><rect x="1474" y="422" width="1" height="35"/><rect x="1473" y="443" width="3" height="5"/><rect x="1484" y="417" width="1" height="37"/><rect x="1483" y="419" width="3" height="22"/><rect x="1520" y="353" width="1" height="53"/><rect x="1519" y="358" width="3" height="28"/><rect x="1535" y="335" width="1" height="43"/><rect x="1534" y="339" width="3" height="30"/><rect x="1550" y="327" width="1" height="21"/><rect x="1549" y="334" width="3" height="4"/><rect x="1560" y="320" width="1" height="58"/><rect x="1559" y="325" width="3" height="43"/><rect x="1565" y="358" width="1" height="24"/><rect x="1564" y="367" width="3" height="1"/><rect x="1576" y="339" width="1" height="46"/><rect x="1575" y="348" width="3" height="26"/></g></g>
<path d="M10 292.5H1759" stroke="#089981" stroke-width="1" stroke-dasharray="1 2" fill="none" shape-rendering="crispEdges"/>
</g>
<g clip-path="url(#rc)">
<rect x="11" y="652" width="1748" height="138.5" fill="#f1eef9"/>
<path d="M10 652.5H1759M10 790.5H1759" stroke="#72757f" stroke-width="1" stroke-dasharray="5 6" fill="none" shape-rendering="crispEdges"/>
<path d="M10 721.5H1759" stroke="#b5b7be" stroke-width="1" stroke-dasharray="5 6" fill="none" shape-rendering="crispEdges"/>
<defs><linearGradient id="gob" gradientUnits="userSpaceOnUse" x1="0" y1="622" x2="0" y2="652"><stop offset="0" stop-color="#4caf50" stop-opacity="0.3"/><stop offset="1" stop-color="#4caf50" stop-opacity="0"/></linearGradient><linearGradient id="gos" gradientUnits="userSpaceOnUse" x1="0" y1="791" x2="0" y2="825"><stop offset="0" stop-color="#f23645" stop-opacity="0"/><stop offset="1" stop-color="#f23645" stop-opacity="0.3"/></linearGradient><clipPath id="cob"><rect x="11" y="608" width="1748" height="44"/></clipPath><clipPath id="cos"><rect x="11" y="791" width="1748" height="44"/></clipPath></defs>
<path d="M9.1 739.2L14.1 752.1L19.1 737.3L24.1 734.9L29.1 711.6L34.1 714.9L39.1 701.4L44.1 710.5L49.1 719.7L54.1 727.7L60.1 732.0L65.1 724.5L70.1 723.7L75.1 713.0L80.1 722.0L85.1 710.6L90.1 697.7L95.1 685.1L100.1 670.1L105.1 661.1L110.1 672.0L115.1 659.3L120.1 684.8L125.1 669.3L131.1 645.1L136.1 635.2L141.1 647.7L146.1 631.1L151.1 655.4L156.1 666.0L161.1 682.3L166.1 691.2L171.1 697.9L176.1 712.6L181.1 708.8L186.1 731.3L191.1 724.1L196.1 735.1L202.1 729.9L207.1 725.7L212.1 741.9L217.1 730.8L222.1 752.6L227.1 757.6L232.1 749.4L237.1 726.5L242.1 713.2L247.1 742.2L252.1 737.7L257.1 747.2L262.1 735.8L267.1 727.6L272.1 722.5L278.1 714.9L283.1 750.6L288.1 740.8L293.1 764.0L298.1 766.9L303.1 748.5L308.1 752.0L313.1 770.7L318.1 774.4L323.1 791.3L328.1 790.6L333.1 771.1L338.1 783.5L343.1 769.7L349.1 750.6L354.1 761.7L359.1 752.3L364.1 745.6L369.1 754.3L374.1 745.0L379.1 723.2L384.1 725.4L389.1 713.2L394.1 710.9L399.1 698.9L404.1 699.3L409.1 718.3L414.1 684.5L420.1 691.0L425.1 702.5L430.1 757.1L435.1 788.9L440.1 798.4L445.1 813.3L450.1 761.8L455.1 775.2L460.1 762.7L465.1 761.3L470.1 761.3L475.1 749.3L480.1 732.4L485.1 730.1L491.1 743.9L496.1 734.8L501.1 746.5L506.1 740.4L511.1 736.8L516.1 750.7L521.1 765.0L526.1 779.3L531.1 768.8L536.1 772.5L541.1 781.2L546.1 757.5L551.1 766.8L556.1 739.3L562.1 731.4L567.1 720.8L572.1 705.4L577.1 714.4L582.1 727.2L587.1 718.6L592.1 717.4L597.1 717.4L602.1 729.9L607.1 737.5L612.1 724.7L617.1 729.2L622.1 734.5L627.1 726.2L633.1 739.9L638.1 749.0L643.1 713.9L648.1 707.6L653.1 719.2L658.1 713.6L663.1 695.7L668.1 691.2L673.1 700.5L678.1 665.6L683.1 663.3L688.1 634.0L693.1 659.1L698.1 636.9L703.1 647.6L709.1 635.7L714.1 652.7L719.1 715.3L724.1 732.3L729.1 735.1L734.1 732.8L739.1 735.6L744.1 734.8L749.1 728.9L754.1 712.0L759.1 715.7L764.1 719.9L769.1 710.3L774.1 706.3L780.1 705.8L785.1 721.4L790.1 702.4L795.1 722.2L800.1 725.1L805.1 727.2L810.1 716.5L815.1 721.8L820.1 726.0L825.1 730.9L830.1 729.5L835.1 722.2L840.1 736.4L845.1 708.5L851.1 684.2L856.1 675.4L861.1 690.9L866.1 721.3L871.1 730.9L876.1 742.7L881.1 751.2L886.1 756.1L891.1 758.8L896.1 750.9L901.1 757.9L906.1 761.9L911.1 743.3L916.1 752.5L922.1 747.7L927.1 755.6L932.1 738.4L937.1 727.4L942.1 724.8L947.1 711.2L952.1 734.6L957.1 726.5L962.1 719.6L967.1 723.7L972.1 712.2L977.1 697.5L982.1 727.9L987.1 736.4L993.1 753.4L998.1 742.4L1003.1 737.2L1008.1 719.9L1013.1 740.1L1018.1 729.7L1023.1 721.3L1028.1 706.6L1033.1 717.7L1038.1 724.9L1043.1 739.3L1048.1 740.8L1053.1 718.7L1058.1 701.6L1063.1 696.1L1069.1 697.3L1074.1 732.2L1079.1 742.6L1084.1 751.8L1089.1 765.6L1094.1 764.4L1099.1 743.1L1104.1 738.6L1109.1 733.3L1114.1 746.7L1119.1 782.5L1124.1 761.2L1129.1 773.4L1134.1 769.4L1140.1 783.9L1145.1 777.5L1150.1 782.4L1155.1 768.1L1160.1 739.8L1165.1 708.9L1170.1 710.8L1175.1 710.8L1180.1 729.8L1185.1 723.6L1190.1 727.0L1195.1 717.1L1200.1 714.7L1205.1 724.7L1211.1 737.4L1216.1 739.1L1221.1 734.2L1226.1 729.2L1231.1 705.7L1236.1 747.1L1241.1 743.9L1246.1 720.8L1251.1 724.8L1256.1 711.7L1261.1 731.7L1266.1 739.7L1271.1 750.1L1276.1 734.2L1282.1 746.0L1287.1 738.2L1292.1 728.3L1297.1 739.2L1302.1 720.7L1307.1 736.1L1312.1 729.6L1317.1 719.9L1322.1 711.9L1327.1 736.3L1332.1 742.5L1337.1 731.2L1342.1 749.3L1347.1 754.9L1353.1 766.2L1358.1 784.5L1363.1 750.0L1368.1 761.6L1373.1 748.8L1378.1 725.8L1383.1 720.1L1388.1 722.3L1393.1 742.7L1398.1 729.4L1403.1 727.7L1408.1 735.8L1413.1 737.3L1418.1 719.6L1424.1 740.5L1429.1 743.5L1434.1 704.6L1439.1 700.6L1444.1 684.8L1449.1 671.6L1454.1 669.2L1459.1 702.7L1464.1 700.0L1469.1 698.2L1474.1 703.3L1479.1 684.1L1484.1 703.2L1489.1 680.9L1494.1 690.4L1500.1 670.9L1505.1 662.0L1510.1 645.2L1515.1 644.2L1520.1 699.1L1525.1 685.1L1530.1 678.2L1535.1 697.7L1540.1 692.6L1545.1 681.6L1550.1 684.3L1555.1 677.7L1560.1 708.0L1565.1 708.3L1571.1 697.2L1576.1 714.8L1581.1 685.9L1586.1 675.6V652H9.3Z" fill="url(#gob)" clip-path="url(#cob)"/>
<path d="M9.1 739.2L14.1 752.1L19.1 737.3L24.1 734.9L29.1 711.6L34.1 714.9L39.1 701.4L44.1 710.5L49.1 719.7L54.1 727.7L60.1 732.0L65.1 724.5L70.1 723.7L75.1 713.0L80.1 722.0L85.1 710.6L90.1 697.7L95.1 685.1L100.1 670.1L105.1 661.1L110.1 672.0L115.1 659.3L120.1 684.8L125.1 669.3L131.1 645.1L136.1 635.2L141.1 647.7L146.1 631.1L151.1 655.4L156.1 666.0L161.1 682.3L166.1 691.2L171.1 697.9L176.1 712.6L181.1 708.8L186.1 731.3L191.1 724.1L196.1 735.1L202.1 729.9L207.1 725.7L212.1 741.9L217.1 730.8L222.1 752.6L227.1 757.6L232.1 749.4L237.1 726.5L242.1 713.2L247.1 742.2L252.1 737.7L257.1 747.2L262.1 735.8L267.1 727.6L272.1 722.5L278.1 714.9L283.1 750.6L288.1 740.8L293.1 764.0L298.1 766.9L303.1 748.5L308.1 752.0L313.1 770.7L318.1 774.4L323.1 791.3L328.1 790.6L333.1 771.1L338.1 783.5L343.1 769.7L349.1 750.6L354.1 761.7L359.1 752.3L364.1 745.6L369.1 754.3L374.1 745.0L379.1 723.2L384.1 725.4L389.1 713.2L394.1 710.9L399.1 698.9L404.1 699.3L409.1 718.3L414.1 684.5L420.1 691.0L425.1 702.5L430.1 757.1L435.1 788.9L440.1 798.4L445.1 813.3L450.1 761.8L455.1 775.2L460.1 762.7L465.1 761.3L470.1 761.3L475.1 749.3L480.1 732.4L485.1 730.1L491.1 743.9L496.1 734.8L501.1 746.5L506.1 740.4L511.1 736.8L516.1 750.7L521.1 765.0L526.1 779.3L531.1 768.8L536.1 772.5L541.1 781.2L546.1 757.5L551.1 766.8L556.1 739.3L562.1 731.4L567.1 720.8L572.1 705.4L577.1 714.4L582.1 727.2L587.1 718.6L592.1 717.4L597.1 717.4L602.1 729.9L607.1 737.5L612.1 724.7L617.1 729.2L622.1 734.5L627.1 726.2L633.1 739.9L638.1 749.0L643.1 713.9L648.1 707.6L653.1 719.2L658.1 713.6L663.1 695.7L668.1 691.2L673.1 700.5L678.1 665.6L683.1 663.3L688.1 634.0L693.1 659.1L698.1 636.9L703.1 647.6L709.1 635.7L714.1 652.7L719.1 715.3L724.1 732.3L729.1 735.1L734.1 732.8L739.1 735.6L744.1 734.8L749.1 728.9L754.1 712.0L759.1 715.7L764.1 719.9L769.1 710.3L774.1 706.3L780.1 705.8L785.1 721.4L790.1 702.4L795.1 722.2L800.1 725.1L805.1 727.2L810.1 716.5L815.1 721.8L820.1 726.0L825.1 730.9L830.1 729.5L835.1 722.2L840.1 736.4L845.1 708.5L851.1 684.2L856.1 675.4L861.1 690.9L866.1 721.3L871.1 730.9L876.1 742.7L881.1 751.2L886.1 756.1L891.1 758.8L896.1 750.9L901.1 757.9L906.1 761.9L911.1 743.3L916.1 752.5L922.1 747.7L927.1 755.6L932.1 738.4L937.1 727.4L942.1 724.8L947.1 711.2L952.1 734.6L957.1 726.5L962.1 719.6L967.1 723.7L972.1 712.2L977.1 697.5L982.1 727.9L987.1 736.4L993.1 753.4L998.1 742.4L1003.1 737.2L1008.1 719.9L1013.1 740.1L1018.1 729.7L1023.1 721.3L1028.1 706.6L1033.1 717.7L1038.1 724.9L1043.1 739.3L1048.1 740.8L1053.1 718.7L1058.1 701.6L1063.1 696.1L1069.1 697.3L1074.1 732.2L1079.1 742.6L1084.1 751.8L1089.1 765.6L1094.1 764.4L1099.1 743.1L1104.1 738.6L1109.1 733.3L1114.1 746.7L1119.1 782.5L1124.1 761.2L1129.1 773.4L1134.1 769.4L1140.1 783.9L1145.1 777.5L1150.1 782.4L1155.1 768.1L1160.1 739.8L1165.1 708.9L1170.1 710.8L1175.1 710.8L1180.1 729.8L1185.1 723.6L1190.1 727.0L1195.1 717.1L1200.1 714.7L1205.1 724.7L1211.1 737.4L1216.1 739.1L1221.1 734.2L1226.1 729.2L1231.1 705.7L1236.1 747.1L1241.1 743.9L1246.1 720.8L1251.1 724.8L1256.1 711.7L1261.1 731.7L1266.1 739.7L1271.1 750.1L1276.1 734.2L1282.1 746.0L1287.1 738.2L1292.1 728.3L1297.1 739.2L1302.1 720.7L1307.1 736.1L1312.1 729.6L1317.1 719.9L1322.1 711.9L1327.1 736.3L1332.1 742.5L1337.1 731.2L1342.1 749.3L1347.1 754.9L1353.1 766.2L1358.1 784.5L1363.1 750.0L1368.1 761.6L1373.1 748.8L1378.1 725.8L1383.1 720.1L1388.1 722.3L1393.1 742.7L1398.1 729.4L1403.1 727.7L1408.1 735.8L1413.1 737.3L1418.1 719.6L1424.1 740.5L1429.1 743.5L1434.1 704.6L1439.1 700.6L1444.1 684.8L1449.1 671.6L1454.1 669.2L1459.1 702.7L1464.1 700.0L1469.1 698.2L1474.1 703.3L1479.1 684.1L1484.1 703.2L1489.1 680.9L1494.1 690.4L1500.1 670.9L1505.1 662.0L1510.1 645.2L1515.1 644.2L1520.1 699.1L1525.1 685.1L1530.1 678.2L1535.1 697.7L1540.1 692.6L1545.1 681.6L1550.1 684.3L1555.1 677.7L1560.1 708.0L1565.1 708.3L1571.1 697.2L1576.1 714.8L1581.1 685.9L1586.1 675.6V791H9.3Z" fill="url(#gos)" clip-path="url(#cos)"/>
<path d="M9.1 729.8L14.1 730.9L19.1 731.7L24.1 732.0L29.1 732.0L34.1 732.3L39.1 730.2L44.1 728.5L49.1 727.5L54.1 726.5L60.1 726.2L65.1 725.2L70.1 725.3L75.1 724.3L80.1 723.2L85.1 720.3L90.1 717.4L95.1 713.9L100.1 710.9L105.1 707.1L110.1 705.0L115.1 701.3L120.1 698.8L125.1 694.7L131.1 688.4L136.1 682.1L141.1 676.7L146.1 670.8L151.1 666.0L156.1 662.9L161.1 661.8L166.1 662.2L171.1 664.2L176.1 667.9L181.1 670.5L186.1 675.6L191.1 678.4L196.1 683.1L202.1 689.2L207.1 695.7L212.1 702.4L217.1 709.5L222.1 716.5L227.1 723.0L232.1 727.8L237.1 730.3L242.1 731.4L247.1 733.5L252.1 735.6L257.1 736.7L262.1 737.5L267.1 737.0L272.1 736.5L278.1 735.7L283.1 736.3L288.1 737.0L293.1 737.9L298.1 738.5L303.1 738.5L308.1 740.3L313.1 744.4L318.1 746.7L323.1 750.5L328.1 753.6L333.1 756.1L338.1 760.1L343.1 763.5L349.1 766.0L354.1 766.8L359.1 767.7L364.1 766.3L369.1 765.4L374.1 765.2L379.1 763.1L384.1 759.9L389.1 755.5L394.1 749.8L399.1 743.2L404.1 738.1L409.1 733.4L414.1 727.4L420.1 723.1L425.1 718.9L430.1 719.2L435.1 722.3L440.1 725.5L445.1 730.3L450.1 733.1L455.1 736.7L460.1 740.2L465.1 743.8L470.1 748.3L475.1 751.8L480.1 752.8L485.1 756.1L491.1 759.9L496.1 762.2L501.1 761.4L506.1 757.9L511.1 753.5L516.1 749.1L521.1 749.3L526.1 749.6L531.1 750.0L536.1 750.8L541.1 752.3L546.1 752.8L551.1 755.3L556.1 756.0L562.1 755.1L567.1 754.1L572.1 751.1L577.1 749.3L582.1 748.6L587.1 746.3L592.1 742.9L597.1 738.5L602.1 735.7L607.1 733.2L612.1 729.2L617.1 727.1L622.1 724.8L627.1 723.9L633.1 724.5L638.1 726.5L643.1 727.1L648.1 726.7L653.1 726.1L658.1 725.7L663.1 724.2L668.1 722.3L673.1 720.2L678.1 715.1L683.1 710.7L688.1 703.9L693.1 698.5L698.1 692.1L703.1 685.5L709.1 677.4L714.1 673.0L719.1 673.6L724.1 674.5L729.1 676.1L734.1 678.7L739.1 681.9L744.1 684.3L749.1 688.9L754.1 692.3L759.1 698.2L764.1 702.5L769.1 707.8L774.1 711.9L780.1 717.0L785.1 721.9L790.1 720.9L795.1 720.2L800.1 719.5L805.1 719.1L810.1 717.7L815.1 716.8L820.1 716.6L825.1 718.0L830.1 719.0L835.1 719.1L840.1 721.0L845.1 721.1L851.1 719.6L856.1 716.3L861.1 715.5L866.1 715.4L871.1 715.8L876.1 717.0L881.1 719.4L886.1 721.9L891.1 724.2L896.1 725.7L901.1 727.7L906.1 730.5L911.1 731.0L916.1 734.2L922.1 738.7L927.1 744.4L932.1 747.8L937.1 748.3L942.1 747.8L947.1 745.6L952.1 744.4L957.1 742.3L962.1 739.5L967.1 737.5L972.1 734.3L977.1 729.7L982.1 728.5L987.1 727.4L993.1 727.8L998.1 726.9L1003.1 726.8L1008.1 726.2L1013.1 727.3L1018.1 728.7L1023.1 727.7L1028.1 726.3L1033.1 726.2L1038.1 726.2L1043.1 728.2L1048.1 731.3L1053.1 730.6L1058.1 728.1L1063.1 724.0L1069.1 720.8L1074.1 720.4L1079.1 722.1L1084.1 722.9L1089.1 725.5L1094.1 728.5L1099.1 731.2L1104.1 732.6L1109.1 733.2L1114.1 733.8L1119.1 736.7L1124.1 739.8L1129.1 744.9L1134.1 750.1L1140.1 756.3L1145.1 759.6L1150.1 762.4L1155.1 763.6L1160.1 761.7L1165.1 757.8L1170.1 755.5L1175.1 753.5L1180.1 753.2L1185.1 751.6L1190.1 747.6L1195.1 744.5L1200.1 740.3L1205.1 737.1L1211.1 733.8L1216.1 731.0L1221.1 727.6L1226.1 724.8L1231.1 722.4L1236.1 725.1L1241.1 727.5L1246.1 728.2L1251.1 727.8L1256.1 727.0L1261.1 727.3L1266.1 728.9L1271.1 731.4L1276.1 732.1L1282.1 732.7L1287.1 732.7L1292.1 732.2L1297.1 733.0L1302.1 734.0L1307.1 733.3L1312.1 732.2L1317.1 732.2L1322.1 731.2L1327.1 733.0L1332.1 733.8L1337.1 733.2L1342.1 733.1L1347.1 734.6L1353.1 736.0L1358.1 739.3L1363.1 740.9L1368.1 742.5L1373.1 744.5L1378.1 743.7L1383.1 743.1L1388.1 743.2L1393.1 745.4L1398.1 744.9L1403.1 743.9L1408.1 744.2L1413.1 743.4L1418.1 740.8L1424.1 739.0L1429.1 736.1L1434.1 732.8L1439.1 728.5L1444.1 723.9L1449.1 720.0L1454.1 716.4L1459.1 715.0L1464.1 711.9L1469.1 709.7L1474.1 708.0L1479.1 704.3L1484.1 701.8L1489.1 699.1L1494.1 695.5L1500.1 690.3L1505.1 687.3L1510.1 683.3L1515.1 680.4L1520.1 682.4L1525.1 683.5L1530.1 681.8L1535.1 681.6L1540.1 681.2L1545.1 679.7L1550.1 679.7L1555.1 677.9L1560.1 679.8L1565.1 681.1L1571.1 683.0L1576.1 686.7L1581.1 689.6L1586.1 691.9" stroke="#ff9800" stroke-width="1.1" fill="none" stroke-linejoin="round"/>
<path d="M9.1 739.2L14.1 752.1L19.1 737.3L24.1 734.9L29.1 711.6L34.1 714.9L39.1 701.4L44.1 710.5L49.1 719.7L54.1 727.7L60.1 732.0L65.1 724.5L70.1 723.7L75.1 713.0L80.1 722.0L85.1 710.6L90.1 697.7L95.1 685.1L100.1 670.1L105.1 661.1L110.1 672.0L115.1 659.3L120.1 684.8L125.1 669.3L131.1 645.1L136.1 635.2L141.1 647.7L146.1 631.1L151.1 655.4L156.1 666.0L161.1 682.3L166.1 691.2L171.1 697.9L176.1 712.6L181.1 708.8L186.1 731.3L191.1 724.1L196.1 735.1L202.1 729.9L207.1 725.7L212.1 741.9L217.1 730.8L222.1 752.6L227.1 757.6L232.1 749.4L237.1 726.5L242.1 713.2L247.1 742.2L252.1 737.7L257.1 747.2L262.1 735.8L267.1 727.6L272.1 722.5L278.1 714.9L283.1 750.6L288.1 740.8L293.1 764.0L298.1 766.9L303.1 748.5L308.1 752.0L313.1 770.7L318.1 774.4L323.1 791.3L328.1 790.6L333.1 771.1L338.1 783.5L343.1 769.7L349.1 750.6L354.1 761.7L359.1 752.3L364.1 745.6L369.1 754.3L374.1 745.0L379.1 723.2L384.1 725.4L389.1 713.2L394.1 710.9L399.1 698.9L404.1 699.3L409.1 718.3L414.1 684.5L420.1 691.0L425.1 702.5L430.1 757.1L435.1 788.9L440.1 798.4L445.1 813.3L450.1 761.8L455.1 775.2L460.1 762.7L465.1 761.3L470.1 761.3L475.1 749.3L480.1 732.4L485.1 730.1L491.1 743.9L496.1 734.8L501.1 746.5L506.1 740.4L511.1 736.8L516.1 750.7L521.1 765.0L526.1 779.3L531.1 768.8L536.1 772.5L541.1 781.2L546.1 757.5L551.1 766.8L556.1 739.3L562.1 731.4L567.1 720.8L572.1 705.4L577.1 714.4L582.1 727.2L587.1 718.6L592.1 717.4L597.1 717.4L602.1 729.9L607.1 737.5L612.1 724.7L617.1 729.2L622.1 734.5L627.1 726.2L633.1 739.9L638.1 749.0L643.1 713.9L648.1 707.6L653.1 719.2L658.1 713.6L663.1 695.7L668.1 691.2L673.1 700.5L678.1 665.6L683.1 663.3L688.1 634.0L693.1 659.1L698.1 636.9L703.1 647.6L709.1 635.7L714.1 652.7L719.1 715.3L724.1 732.3L729.1 735.1L734.1 732.8L739.1 735.6L744.1 734.8L749.1 728.9L754.1 712.0L759.1 715.7L764.1 719.9L769.1 710.3L774.1 706.3L780.1 705.8L785.1 721.4L790.1 702.4L795.1 722.2L800.1 725.1L805.1 727.2L810.1 716.5L815.1 721.8L820.1 726.0L825.1 730.9L830.1 729.5L835.1 722.2L840.1 736.4L845.1 708.5L851.1 684.2L856.1 675.4L861.1 690.9L866.1 721.3L871.1 730.9L876.1 742.7L881.1 751.2L886.1 756.1L891.1 758.8L896.1 750.9L901.1 757.9L906.1 761.9L911.1 743.3L916.1 752.5L922.1 747.7L927.1 755.6L932.1 738.4L937.1 727.4L942.1 724.8L947.1 711.2L952.1 734.6L957.1 726.5L962.1 719.6L967.1 723.7L972.1 712.2L977.1 697.5L982.1 727.9L987.1 736.4L993.1 753.4L998.1 742.4L1003.1 737.2L1008.1 719.9L1013.1 740.1L1018.1 729.7L1023.1 721.3L1028.1 706.6L1033.1 717.7L1038.1 724.9L1043.1 739.3L1048.1 740.8L1053.1 718.7L1058.1 701.6L1063.1 696.1L1069.1 697.3L1074.1 732.2L1079.1 742.6L1084.1 751.8L1089.1 765.6L1094.1 764.4L1099.1 743.1L1104.1 738.6L1109.1 733.3L1114.1 746.7L1119.1 782.5L1124.1 761.2L1129.1 773.4L1134.1 769.4L1140.1 783.9L1145.1 777.5L1150.1 782.4L1155.1 768.1L1160.1 739.8L1165.1 708.9L1170.1 710.8L1175.1 710.8L1180.1 729.8L1185.1 723.6L1190.1 727.0L1195.1 717.1L1200.1 714.7L1205.1 724.7L1211.1 737.4L1216.1 739.1L1221.1 734.2L1226.1 729.2L1231.1 705.7L1236.1 747.1L1241.1 743.9L1246.1 720.8L1251.1 724.8L1256.1 711.7L1261.1 731.7L1266.1 739.7L1271.1 750.1L1276.1 734.2L1282.1 746.0L1287.1 738.2L1292.1 728.3L1297.1 739.2L1302.1 720.7L1307.1 736.1L1312.1 729.6L1317.1 719.9L1322.1 711.9L1327.1 736.3L1332.1 742.5L1337.1 731.2L1342.1 749.3L1347.1 754.9L1353.1 766.2L1358.1 784.5L1363.1 750.0L1368.1 761.6L1373.1 748.8L1378.1 725.8L1383.1 720.1L1388.1 722.3L1393.1 742.7L1398.1 729.4L1403.1 727.7L1408.1 735.8L1413.1 737.3L1418.1 719.6L1424.1 740.5L1429.1 743.5L1434.1 704.6L1439.1 700.6L1444.1 684.8L1449.1 671.6L1454.1 669.2L1459.1 702.7L1464.1 700.0L1469.1 698.2L1474.1 703.3L1479.1 684.1L1484.1 703.2L1489.1 680.9L1494.1 690.4L1500.1 670.9L1505.1 662.0L1510.1 645.2L1515.1 644.2L1520.1 699.1L1525.1 685.1L1530.1 678.2L1535.1 697.7L1540.1 692.6L1545.1 681.6L1550.1 684.3L1555.1 677.7L1560.1 708.0L1565.1 708.3L1571.1 697.2L1576.1 714.8L1581.1 685.9L1586.1 675.6" stroke="#7e57c2" stroke-width="1.1" fill="none" stroke-linejoin="round"/>
</g>
<text x="18.3" y="20.4" textLength="82.6" lengthAdjust="spacingAndGlyphs">Brent Crude Oil</text>
<text x="105" y="20.4" class="b">·</text>
<text x="113.3" y="20.4" textLength="12.4" lengthAdjust="spacingAndGlyphs">1D</text>
<text x="130.5" y="20.4" class="b">·</text>
<text x="138.6" y="20.4" textLength="36.5" lengthAdjust="spacingAndGlyphs">OANDA</text>
<text x="183.1" y="20.4" textLength="42.6" lengthAdjust="spacingAndGlyphs">O<tspan style="fill:#089981;stroke:#089981">70.461</tspan></text>
<text x="234.1" y="20.4" textLength="43.2" lengthAdjust="spacingAndGlyphs">H<tspan style="fill:#089981;stroke:#089981">71.669</tspan></text>
<text x="285.2" y="20.4" textLength="40.8" lengthAdjust="spacingAndGlyphs">L<tspan style="fill:#089981;stroke:#089981">70.388</tspan></text>
<text x="334.2" y="20.4" textLength="42.5" lengthAdjust="spacingAndGlyphs">C<tspan style="fill:#089981;stroke:#089981">71.578</tspan></text>
<text x="384.9" y="20.4" textLength="84.4" lengthAdjust="spacingAndGlyphs" style="fill:#089981;stroke:#089981;">+1.182 (+1.68%)</text>
<text x="18" y="37.1" textLength="87.3" lengthAdjust="spacingAndGlyphs">SMA (200, close)</text>
<text x="113.5" y="37.1" textLength="35.6" lengthAdjust="spacingAndGlyphs" style="fill:#2962ff;stroke:#2962ff;">66.408</text>
<text x="18.3" y="627.2" textLength="75.7" lengthAdjust="spacingAndGlyphs">RSI (14, close)</text>
<text x="101.5" y="627.2" textLength="29.4" lengthAdjust="spacingAndGlyphs" style="fill:#7e57c2;stroke:#7e57c2;">63.22</text>
<text x="138.6" y="627.2" textLength="29.4" lengthAdjust="spacingAndGlyphs" style="fill:#ff9800;stroke:#ff9800;">58.48</text>
<text x="1768.3" y="41.9" textLength="35.2" lengthAdjust="spacingAndGlyphs">84.000</text>
<text x="1768.3" y="82.9" textLength="35.2" lengthAdjust="spacingAndGlyphs">82.000</text>
<text x="1768.3" y="123.9" textLength="35.2" lengthAdjust="spacingAndGlyphs">80.000</text>
<text x="1768.3" y="164.9" textLength="35.2" lengthAdjust="spacingAndGlyphs">78.000</text>
<text x="1768.3" y="205.9" textLength="35.2" lengthAdjust="spacingAndGlyphs">76.000</text>
<text x="1768.3" y="246.9" textLength="35.2" lengthAdjust="spacingAndGlyphs">74.000</text>
<text x="1768.3" y="287.9" textLength="35.2" lengthAdjust="spacingAndGlyphs">72.000</text>
<text x="1768.3" y="328.9" textLength="35.2" lengthAdjust="spacingAndGlyphs">70.000</text>
<text x="1768.3" y="369.9" textLength="35.2" lengthAdjust="spacingAndGlyphs">68.000</text>
<text x="1768.3" y="410.9" textLength="35.2" lengthAdjust="spacingAndGlyphs">66.000</text>
<text x="1768.3" y="451.9" textLength="35.2" lengthAdjust="spacingAndGlyphs">64.000</text>
<text x="1768.3" y="492.9" textLength="35.2" lengthAdjust="spacingAndGlyphs">62.000</text>
<text x="1768.3" y="534.9" textLength="35.2" lengthAdjust="spacingAndGlyphs">60.000</text>
<text x="1768.3" y="575.9" textLength="35.2" lengthAdjust="spacingAndGlyphs">58.000</text>
<text x="1768.3" y="620.8" textLength="29.4" lengthAdjust="spacingAndGlyphs">80.00</text>
<text x="1768.3" y="655.65" textLength="29.4" lengthAdjust="spacingAndGlyphs">70.00</text>
<text x="1768.3" y="690.5" textLength="29.4" lengthAdjust="spacingAndGlyphs">60.00</text>
<text x="1768.3" y="725.35" textLength="29.4" lengthAdjust="spacingAndGlyphs">50.00</text>
<text x="1768.3" y="760.2" textLength="29.4" lengthAdjust="spacingAndGlyphs">40.00</text>
<text x="1768.3" y="795.05" textLength="29.4" lengthAdjust="spacingAndGlyphs">30.00</text>
<text x="1768.3" y="829.9" textLength="29.4" lengthAdjust="spacingAndGlyphs">20.00</text>
<path d="M1760 284h58a2 2 0 0 1 2 2v27a2 2 0 0 1 -2 2h-58z" fill="#089981"/>
<text x="1768.3" y="296.8" textLength="35.4" lengthAdjust="spacingAndGlyphs" class="b" style="fill:#ffffff;stroke:#ffffff;">71.578</text>
<text x="1768.8" y="310.7" textLength="45.4" lengthAdjust="spacingAndGlyphs" class="b" style="fill:#c3e7df;stroke:#c3e7df;">13:09:22</text>
<path d="M1760 391h47a2 2 0 0 1 2 2v12.9a2 2 0 0 1 -2 2h-47z" fill="#2962ff"/>
<text x="1768.2" y="403.9" textLength="35.5" lengthAdjust="spacingAndGlyphs" class="b" style="fill:#ffffff;stroke:#ffffff;">66.408</text>
<path d="M1760 667.1h41a2 2 0 0 1 2 2v12.8a2 2 0 0 1 -2 2h-41z" fill="#7e57c2"/>
<text x="1768.2" y="679.8" textLength="28.9" lengthAdjust="spacingAndGlyphs" class="b" style="fill:#ffffff;stroke:#ffffff;">63.22</text>
<path d="M1760 683.9h41a2 2 0 0 1 2 2v12.9a2 2 0 0 1 -2 2h-41z" fill="#ff9800"/>
<text x="1768.8" y="696.6" textLength="28.3" lengthAdjust="spacingAndGlyphs" style="fill:#0b0b0b;stroke:#0b0b0b;">58.48</text>
<text x="100.597" y="851.2" textLength="27.3" lengthAdjust="spacingAndGlyphs" class="b" text-anchor="middle">2025</text>
<text x="212.149" y="851.2" textLength="18.7" lengthAdjust="spacingAndGlyphs" text-anchor="middle">Feb</text>
<text x="313.56" y="851.2" text-anchor="middle">Mar</text>
<text x="420.041" y="851.2" text-anchor="middle">Apr</text>
<text x="531.593" y="851.2" text-anchor="middle">May</text>
<text x="643.145" y="851.2" text-anchor="middle">Jun</text>
<text x="749.626" y="851.2" text-anchor="middle">Jul</text>
<text x="866.249" y="851.2" text-anchor="middle">Aug</text>
<text x="972.73" y="851.2" text-anchor="middle">Sep</text>
<text x="1084.28" y="851.2" text-anchor="middle">Oct</text>
<text x="1200.9" y="851.2" text-anchor="middle">Nov</text>
<text x="1302.32" y="851.2" text-anchor="middle">Dec</text>
<text x="1413.87" y="851.2" textLength="27.3" lengthAdjust="spacingAndGlyphs" class="b" text-anchor="middle">2026</text>
<text x="1520.35" y="851.2" textLength="18.7" lengthAdjust="spacingAndGlyphs" text-anchor="middle">Feb</text>
<text x="1621.76" y="851.2" text-anchor="middle">Mar</text>
<text x="1733.31" y="851.2" text-anchor="middle">Apr</text>
<g fill="#131313"><path d="M23.7 897.8H17.8V889H11.9V883.1H23.7z"/><circle cx="28.8" cy="885.7" r="2.75"/><path d="M36.3 897.8H29.1L33.6 883.1H41.9z"/></g>
<text x="49" y="897.8" textLength="120.8" lengthAdjust="spacingAndGlyphs" class="b" style="fill:#131313;stroke:#131313;font-size:20.5px;" stroke="#131313" stroke-width="0.45">TradingView</text>
</svg>
</body></html>
